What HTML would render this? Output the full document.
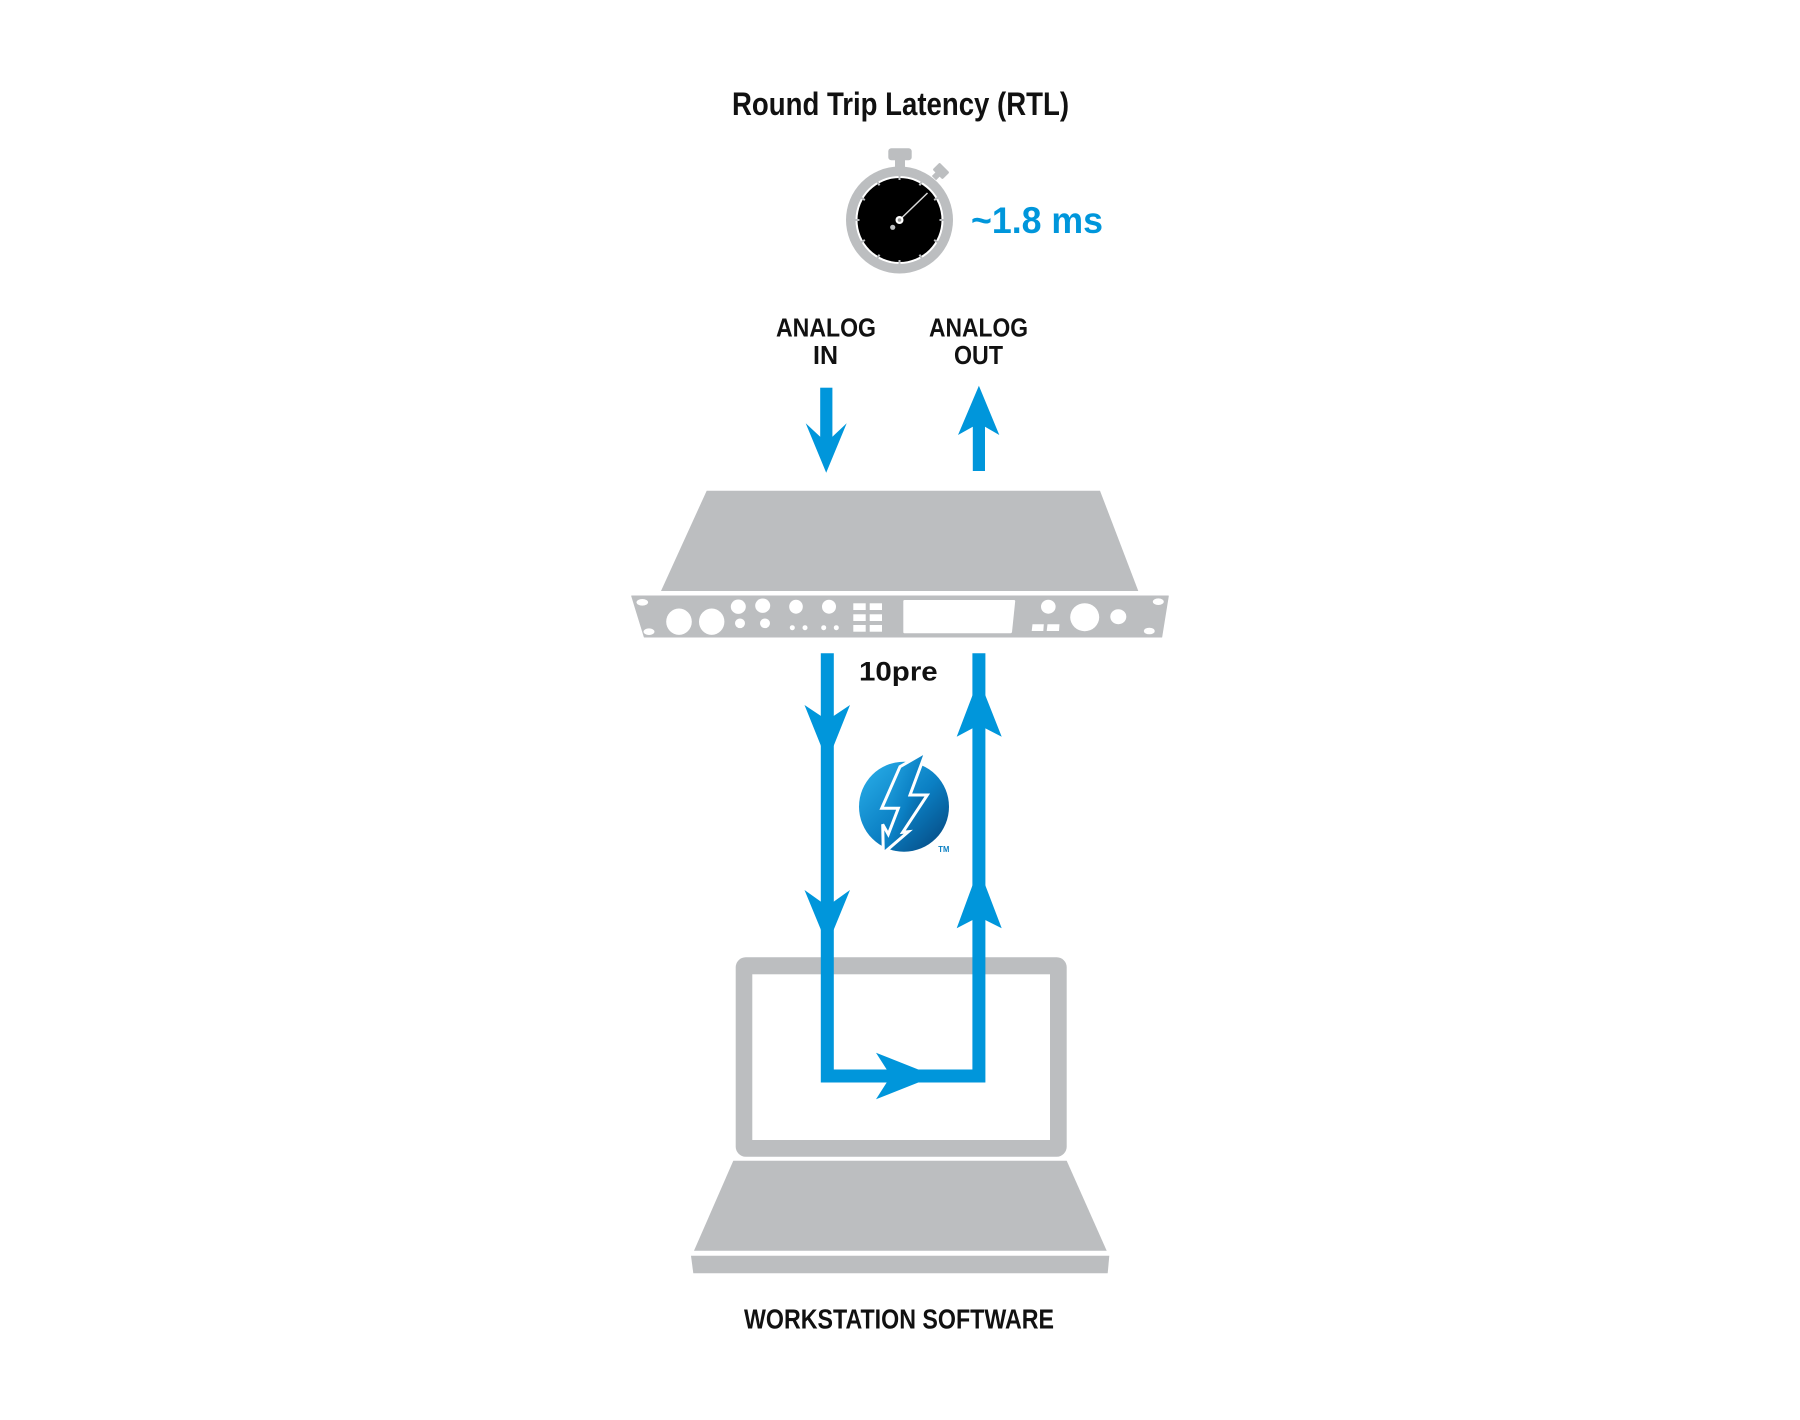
<!DOCTYPE html>
<html>
<head>
<meta charset="utf-8">
<style>
  html, body { margin: 0; padding: 0; background: #ffffff; }
  body { width: 1800px; height: 1420px; overflow: hidden; }
  svg { display: block; }
  text { font-family: "Liberation Sans", "DejaVu Sans", sans-serif; font-weight: bold; }
</style>
</head>
<body>
<svg width="1800" height="1420" viewBox="0 0 1800 1420" xmlns="http://www.w3.org/2000/svg">
  <defs>
    <linearGradient id="tb" x1="0.15" y1="0.15" x2="0.9" y2="0.9">
      <stop offset="0" stop-color="#22a3e0"/>
      <stop offset="0.5" stop-color="#0b80c4"/>
      <stop offset="1" stop-color="#06508a"/>
    </linearGradient>
  </defs>

  <!-- Title -->
  <text x="732" y="115" font-size="32" fill="#111" textLength="337" lengthAdjust="spacingAndGlyphs">Round Trip Latency (RTL)</text>

  <!-- Stopwatch -->
  <rect x="888.3" y="148.3" width="23.4" height="12" rx="3" fill="#bcbec0"/>
  <rect x="895" y="158" width="10" height="14" fill="#bcbec0"/>
  <g transform="translate(941,171) rotate(45)">
    <rect x="-7" y="-5" width="14" height="10" rx="1.5" fill="#bcbec0"/>
    <rect x="-3" y="4" width="6" height="6" fill="#bcbec0"/>
  </g>
  <circle cx="899.5" cy="220" r="53.5" fill="#bcbec0"/>
  <circle cx="899.5" cy="220" r="44" fill="#ffffff"/>
  <circle cx="899.5" cy="220" r="42" fill="#000000"/>
  <g stroke="#bcbec0" stroke-width="2">
    <line x1="899.5" y1="174" x2="899.5" y2="180"/>
    <line x1="899.5" y1="260" x2="899.5" y2="266"/>
    <line x1="853.5" y1="220" x2="859.5" y2="220"/>
    <line x1="939.5" y1="220" x2="945.5" y2="220"/>
    <line x1="876.5" y1="180.2" x2="879.5" y2="185.4"/>
    <line x1="922.5" y1="180.2" x2="919.5" y2="185.4"/>
    <line x1="876.5" y1="259.8" x2="879.5" y2="254.6"/>
    <line x1="922.5" y1="259.8" x2="919.5" y2="254.6"/>
    <line x1="859.7" y1="197" x2="864.9" y2="200"/>
    <line x1="939.3" y1="197" x2="934.1" y2="200"/>
    <line x1="859.7" y1="243" x2="864.9" y2="240"/>
    <line x1="939.3" y1="243" x2="934.1" y2="240"/>
  </g>
  <line x1="899.5" y1="220" x2="927.5" y2="193" stroke="#d8d8d8" stroke-width="1.5"/>
  <circle cx="899.5" cy="220" r="4" fill="#ffffff"/>
  <circle cx="899.5" cy="220" r="1.8" fill="#9a9a9a"/>
  <circle cx="892.7" cy="227.3" r="2.6" fill="#bcbec0"/>

  <!-- ~1.8 ms -->
  <text x="971" y="233" font-size="37" fill="#0096db" textLength="132" lengthAdjust="spacingAndGlyphs">~1.8 ms</text>

  <!-- Analog labels -->
  <text x="776" y="336.7" font-size="25.5" fill="#111" textLength="100" lengthAdjust="spacingAndGlyphs">ANALOG</text>
  <text x="813" y="364" font-size="25.5" fill="#111" textLength="25" lengthAdjust="spacingAndGlyphs">IN</text>
  <text x="929" y="336.7" font-size="25.5" fill="#111" textLength="99" lengthAdjust="spacingAndGlyphs">ANALOG</text>
  <text x="954" y="364" font-size="25.5" fill="#111" textLength="49" lengthAdjust="spacingAndGlyphs">OUT</text>

  <!-- Top arrows -->
  <g fill="#0096db">
    <rect x="820.2" y="387.7" width="12.2" height="52"/>
    <polygon points="826.2,472.7 805.7,423.3 820.2,436.7 832.4,436.7 846.7,423.3"/>
    <rect x="972.8" y="420" width="12.2" height="51"/>
    <polygon points="978.9,385.7 958,435 972.8,426.7 985,426.7 999.3,435"/>
  </g>

  <!-- Device (10pre) -->
  <polygon points="706.7,490.7 1100,490.7 1138.3,591 661,591" fill="#bcbec0"/>
  <polygon points="631.7,596 1168.3,596 1161.7,637 644.3,637" fill="#bcbec0" stroke="#bcbec0" stroke-width="1" stroke-linejoin="round"/>
  <g fill="#ffffff">
    <ellipse cx="642.3" cy="602.3" rx="5.8" ry="3.3"/>
    <ellipse cx="649" cy="631.7" rx="5.5" ry="3.3"/>
    <ellipse cx="1158.3" cy="601.7" rx="5.5" ry="3.3"/>
    <ellipse cx="1149.3" cy="631" rx="5.5" ry="3.3"/>
    <ellipse cx="679" cy="621.7" rx="12.8" ry="13.2"/>
    <ellipse cx="711.7" cy="621.7" rx="12.7" ry="13.2"/>
    <ellipse cx="738.3" cy="606.7" rx="7.5" ry="7.2"/>
    <ellipse cx="762.7" cy="605.7" rx="7.5" ry="7.2"/>
    <ellipse cx="740" cy="623.3" rx="5" ry="4.8"/>
    <ellipse cx="765" cy="623.3" rx="5" ry="4.8"/>
    <ellipse cx="796" cy="606.7" rx="6.8" ry="7"/>
    <ellipse cx="829" cy="606.7" rx="7" ry="7"/>
    <circle cx="792.3" cy="627.7" r="2.5"/>
    <circle cx="805" cy="627.7" r="2.5"/>
    <circle cx="823.7" cy="627.7" r="2.5"/>
    <circle cx="836.3" cy="627.7" r="2.5"/>
    <rect x="853.3" y="603.3" width="12.4" height="6.7"/>
    <rect x="869.7" y="603.3" width="12.3" height="6.7"/>
    <rect x="853.3" y="614.3" width="12.4" height="6.7"/>
    <rect x="869.7" y="614.3" width="12.3" height="6.7"/>
    <rect x="853.3" y="625" width="12.4" height="6.7"/>
    <rect x="869.7" y="625" width="12.3" height="6.7"/>
    <path d="M904.5,600 L1014,600 Q1015.3,600 1015.2,601.3 L1012,632 Q1011.8,633.3 1010.5,633.3 L904.5,633.3 Q903.3,633.3 903.3,632.1 L903.3,601.2 Q903.3,600 904.5,600 Z"/>
    <ellipse cx="1048.3" cy="606.7" rx="7.3" ry="7"/>
    <polygon points="1032.5,624.3 1043.8,624.3 1043.3,631 1031.7,631"/>
    <polygon points="1047.5,624.3 1059.5,624.3 1059,631 1046.7,631"/>
    <ellipse cx="1084.7" cy="617.2" rx="14.5" ry="14"/>
    <ellipse cx="1118.3" cy="616.7" rx="8" ry="7.5"/>
  </g>

  <!-- 10pre label -->
  <text x="859" y="680.7" font-size="26.5" fill="#111" textLength="78.7" lengthAdjust="spacingAndGlyphs">10pre</text>

  <!-- Thunderbolt logo -->
  <circle cx="904" cy="806.7" r="45" fill="url(#tb)"/>
  <polygon points="926,751.7 910,795 927.3,795 902.7,832.3 908.3,831.7 883.3,853.3 882.7,824.3 888.3,834.3 898.3,808.3 881.7,808.3 900,766.7"
           fill="url(#tb)" stroke="#ffffff" stroke-width="3" stroke-linejoin="miter"/>
  <text x="938.3" y="852" font-size="8.5" fill="#0b7fc2" textLength="11" lengthAdjust="spacingAndGlyphs">TM</text>

  <!-- Laptop -->
  <rect x="735.7" y="957.3" width="331" height="199.4" rx="10" fill="#bcbec0"/>
  <rect x="752.3" y="974.3" width="297.7" height="165.7" fill="#ffffff"/>
  <polygon points="733.3,1160.7 1066.7,1160.7 1106.7,1250.7 694,1250.7" fill="#bcbec0"/>
  <polygon points="691,1255.7 1109.3,1255.7 1107.7,1273.3 693.3,1273.3" fill="#bcbec0"/>

  <!-- Blue loop -->
  <polyline points="827.3,653.3 827.3,1076 978.9,1076 978.9,653.3" fill="none" stroke="#0096db" stroke-width="13" stroke-linejoin="miter"/>
  <g fill="#0096db">
    <polygon points="804.5,705 821,716 833.6,716 850,705 833.6,746 821,746"/>
    <polygon points="804.5,890 821,901.7 833.6,901.7 850,890 833.6,930 821,930"/>
    <polygon points="972.6,695 985.2,695 1001.7,736.7 985.2,728.3 972.6,728.3 956.7,736.7"/>
    <polygon points="972.6,885 985.2,885 1001.7,928.3 985.2,920 972.6,920 956.7,928.3"/>
    <polygon points="876,1052.7 886.7,1069.5 886.7,1082.5 876,1099.3 918.3,1082.5 918.3,1069.5"/>
  </g>

  <!-- Bottom label -->
  <text x="744" y="1328.3" font-size="27.5" fill="#111" textLength="310" lengthAdjust="spacingAndGlyphs">WORKSTATION SOFTWARE</text>
</svg>
</body>
</html>
